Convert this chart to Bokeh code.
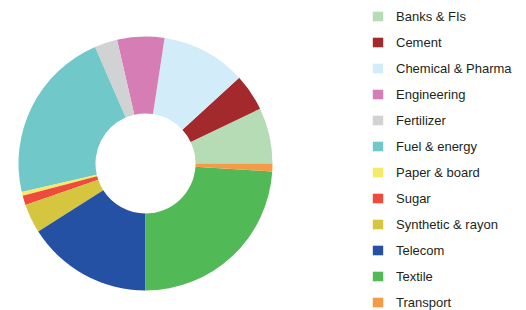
import numpy as np
from bokeh.plotting import figure
from bokeh.models import ColumnDataSource, Range1d
from bokeh.embed import file_html
from bokeh.resources import INLINE

sectors = ["Banks & FIs", "Cement", "Chemical & Pharma", "Engineering", "Fertilizer",
           "Fuel & energy", "Paper & board", "Sugar", "Synthetic & rayon", "Telecom",
           "Textile", "Transport"]
shares = [7.1, 4.7, 10.8, 6.0, 2.9, 22.1, 0.5, 1.2, 3.7, 16.0, 24.0, 1.0]
colors = ["#b6dcb5", "#a3292d", "#d2ecf9", "#d57db4", "#d1d2d4", "#70c9c8",
          "#f6ea68", "#ee4b3c", "#d6c53e", "#2451a3", "#52b957", "#f59a46"]

vals = np.array(shares, dtype=float)
frac = vals / vals.sum()
ends = np.cumsum(frac) * 2 * np.pi
starts = np.concatenate([[0.0], ends[:-1]])

src = ColumnDataSource(dict(sector=sectors, share=shares, color=colors,
                            start=starts, end=ends))

W, H = 518, 310
p = figure(width=W, height=H, output_backend="svg", toolbar_location=None,
           x_range=Range1d(0, W), y_range=Range1d(0, H), min_border=0,
           x_axis_type=None, y_axis_type=None)
p.grid.visible = False
p.outline_line_color = None
p.background_fill_color = None
p.border_fill_color = None

cx, cy = 145, H - 163
p.annular_wedge(x=cx, y=cy, inner_radius=50, outer_radius=127,
                inner_radius_units="screen", outer_radius_units="screen",
                start_angle="start", end_angle="end", direction="anticlock",
                fill_color="color", line_color=None, source=src,
                legend_field="sector")

lg = p.legend[0]
lg.location = (371, 0)
lg.border_line_color = None
lg.background_fill_alpha = 0
lg.padding = 0
lg.margin = 0
lg.glyph_width = 13
lg.glyph_height = 12
lg.label_height = 16
lg.label_standoff = 12
lg.spacing = 10
lg.label_text_font = "Liberation Sans"
lg.label_text_font_size = "13px"
lg.label_text_color = "#231f20"

open("out.html", "w").write(file_html(p, INLINE))
